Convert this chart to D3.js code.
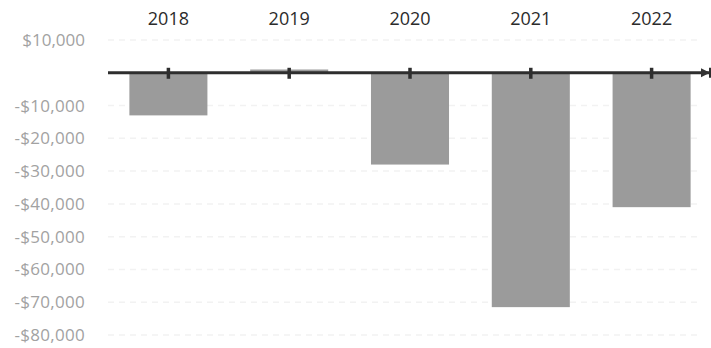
<!DOCTYPE html>
<html>
<head>
<meta charset="utf-8">
<script src="https://cdn.jsdelivr.net/npm/d3@7"></script>
<style>
  html, body { margin: 0; padding: 0; background: #fff; }
  svg { display: block; }
</style>
</head>
<body>
<svg id="chart" width="711" height="348"></svg>
<script>
// Yearly net results
const years = ["2018", "2019", "2020", "2021", "2022"];
const values = [-13000, 1000, -28000, -71500, -41000];
const tickValues = [10000, -10000, -20000, -30000, -40000, -50000, -60000, -70000, -80000];

const svg = d3.select("#chart");
const left = 108, right = 712;

const x = d3.scaleBand()
  .domain(years)
  .range([left, right])
  .paddingInner(0.354)
  .paddingOuter(0.177);

const y = d3.scaleLinear()
  .domain([10000, -80000])
  .range([40, 335]);

const fmt = v => (v < 0 ? "-$" : "$") + d3.format(",")(Math.abs(v));

// Faint gridlines
svg.append("g")
  .selectAll("line")
  .data(tickValues)
  .join("line")
  .attr("x1", left)
  .attr("x2", 700)
  .attr("y1", d => y(d))
  .attr("y2", d => y(d))
  .attr("stroke", "#f2f2f2")
  .attr("stroke-width", 1.5)
  .attr("stroke-dasharray", "6,5");

// Value axis labels
const yAxis = d3.axisLeft(y)
  .tickValues(tickValues)
  .tickFormat(fmt)
  .tickSize(0)
  .tickPadding(0);

const yg = svg.append("g")
  .attr("transform", "translate(85,0)")
  .call(yAxis);
yg.select(".domain").remove();
yg.selectAll("text")
  .attr("fill", "#a2a2a2")
  .style("font-family", "'Open Sans', 'Noto Sans', sans-serif")
  .style("font-size", "17px");
yg.selectAll("text")
  .filter(d => d < 0)
  .style("letter-spacing", "0.3px");

// Bars
svg.append("g")
  .selectAll("rect")
  .data(values)
  .join("rect")
  .attr("x", (d, i) => x(years[i]))
  .attr("width", x.bandwidth())
  .attr("y", d => Math.min(y(d), y(0)))
  .attr("height", d => Math.abs(y(d) - y(0)))
  .attr("fill", "#9b9b9b");

// Year labels along the top
const xAxis = d3.axisTop(x).tickSize(0).tickPadding(0);
const xg = svg.append("g")
  .attr("transform", "translate(0,25)")
  .call(xAxis);
xg.select(".domain").remove();
xg.selectAll("text")
  .attr("fill", "#2b2b2b")
  .style("font-family", "'Open Sans', 'Noto Sans', sans-serif")
  .style("font-size", "18px");

// Zero baseline with arrow and category ticks
const defs = svg.append("defs");
defs.append("marker")
  .attr("id", "arrow")
  .attr("viewBox", "0 0 10 10")
  .attr("refX", 9)
  .attr("refY", 5)
  .attr("markerWidth", 3)
  .attr("markerHeight", 4)
  .attr("orient", "auto")
  .append("path")
  .attr("d", "M0,0 L10,5 L0,10 Z")
  .attr("fill", "#333");

svg.append("line")
  .attr("x1", left)
  .attr("x2", 709)
  .attr("y1", y(0))
  .attr("y2", y(0))
  .attr("stroke", "#2e2e2e")
  .attr("stroke-width", 3)
  .attr("marker-end", "url(#arrow)");

svg.append("line")
  .attr("x1", 710)
  .attr("x2", 710)
  .attr("y1", y(0) - 5)
  .attr("y2", y(0) + 5)
  .attr("stroke", "#2e2e2e")
  .attr("stroke-width", 2);

svg.append("g")
  .selectAll("line")
  .data(years)
  .join("line")
  .attr("x1", d => x(d) + x.bandwidth() / 2)
  .attr("x2", d => x(d) + x.bandwidth() / 2)
  .attr("y1", y(0) - 5)
  .attr("y2", y(0) + 6)
  .attr("stroke", "#2e2e2e")
  .attr("stroke-width", 3.5);
</script>
</body>
</html>
